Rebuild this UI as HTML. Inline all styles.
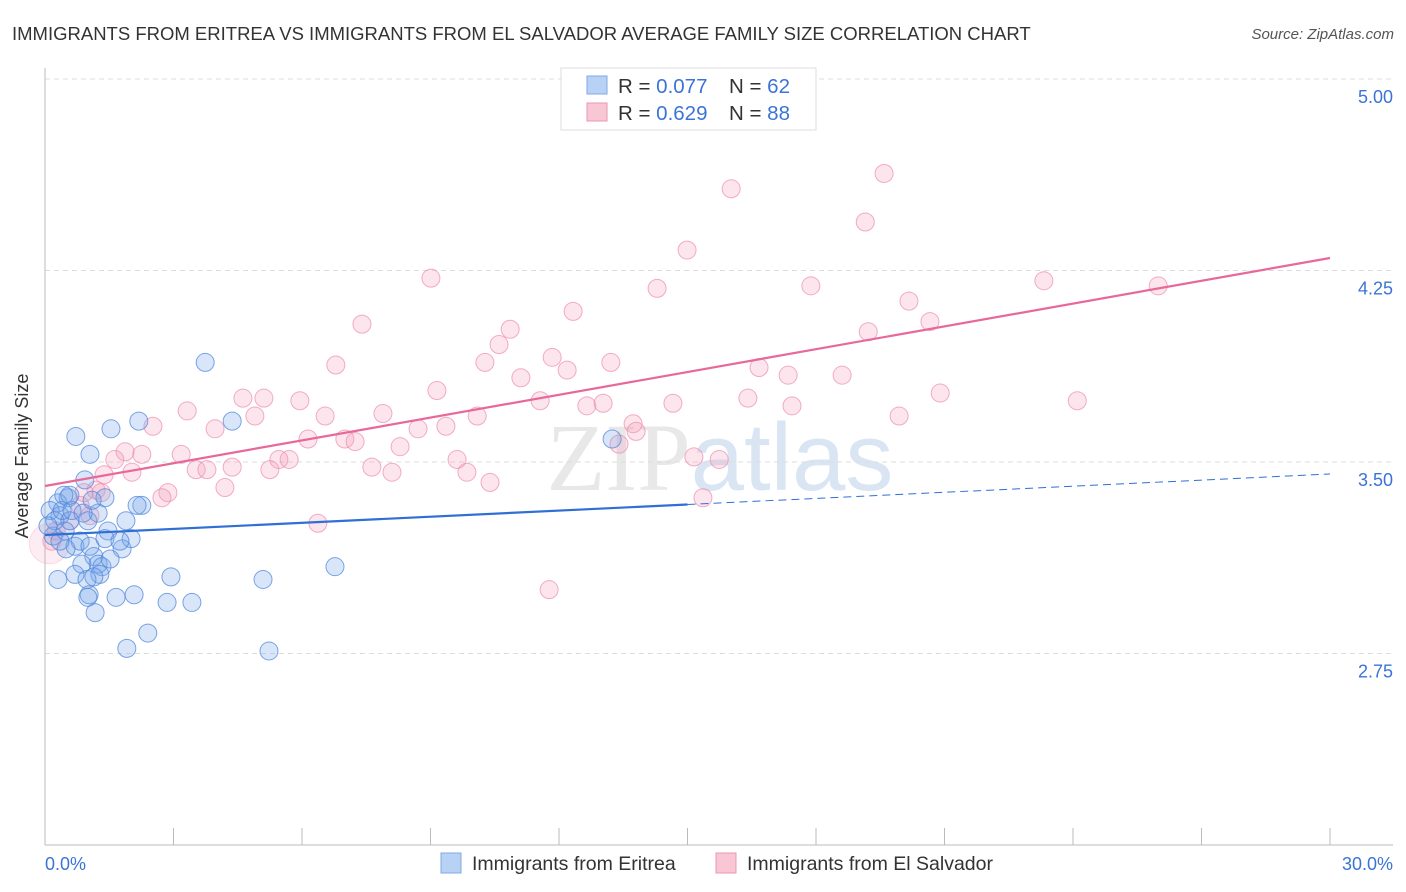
<!DOCTYPE html>
<html><head><meta charset="utf-8"><style>
body{margin:0;background:#fff;font-family:"Liberation Sans",sans-serif}
svg{display:block}
</style></head><body>
<svg width="1406" height="892" xmlns="http://www.w3.org/2000/svg">
<text x="12" y="40" font-size="18.5" fill="#333">IMMIGRANTS FROM ERITREA VS IMMIGRANTS FROM EL SALVADOR AVERAGE FAMILY SIZE CORRELATION CHART</text>
<text x="1394" y="39" font-size="15" fill="#555" font-style="italic" text-anchor="end">Source: ZipAtlas.com</text>
<text x="720" y="490" font-size="96" fill="#e8e8e8" text-anchor="middle" font-family="Liberation Serif">ZIP<tspan fill="#dae5f4" font-family="Liberation Sans">atlas</tspan></text>
<g id="grid"></g>
<g id="axes"></g>
<g id="pts"></g>
<g id="lines"></g>
<text x="28" y="456" font-size="18" fill="#333" text-anchor="middle" transform="rotate(-90 28 456)">Average Family Size</text>
<text x="45" y="870" font-size="18" fill="#3b74d6">0.0%</text>
<text x="1393" y="870" font-size="18" fill="#3b74d6" text-anchor="end">30.0%</text>
<g>
<rect x="561" y="68" width="255" height="62" fill="#fff" stroke="#ddd"/>
<rect x="587" y="76" width="20" height="18" fill="#b8d2f5" stroke="#7fa8e6"/>
<text x="618" y="93" font-size="20.5" fill="#333">R = <tspan fill="#3b74d6">0.077</tspan><tspan x="729">N = </tspan><tspan fill="#3b74d6">62</tspan></text>
<rect x="587" y="103" width="20" height="18" fill="#f9c6d5" stroke="#eb97b2"/>
<text x="618" y="120" font-size="20.5" fill="#333">R = <tspan fill="#3b74d6">0.629</tspan><tspan x="729">N = </tspan><tspan fill="#3b74d6">88</tspan></text>
</g>
<g>
<rect x="441" y="853" width="20" height="20" fill="#b8d2f5" stroke="#7fa8e6"/>
<text x="472" y="870" font-size="19.5" fill="#333">Immigrants from Eritrea</text>
<rect x="716" y="853" width="20" height="20" fill="#f9c6d5" stroke="#eb97b2"/>
<text x="747" y="870" font-size="19.5" fill="#333">Immigrants from El Salvador</text>
</g>
</svg>
<script>
const yTicks=[5.00,4.25,3.50,2.75];
const blueX=[3.74,2.19,4.37,0.72,1.54,1.05,0.93,0.54,1.40,2.26,2.15,1.89,0.30,0.12,0.35,0.58,1.00,1.24,0.47,0.19,1.47,0.70,0.82,0.49,1.14,1.80,2.01,1.40,1.75,1.24,1.33,0.86,1.28,1.14,0.70,0.30,0.98,2.94,5.09,6.77,1.03,1.00,1.66,2.08,2.85,3.43,1.17,2.40,1.91,5.23,13.24,0.23,0.07,0.40,0.63,0.89,1.10,0.35,1.52,1.05,0.58,0.44];
const blueY=[3.89,3.66,3.66,3.60,3.63,3.53,3.43,3.36,3.36,3.33,3.33,3.27,3.34,3.31,3.29,3.27,3.27,3.30,3.23,3.21,3.23,3.17,3.19,3.16,3.13,3.16,3.20,3.20,3.19,3.10,3.09,3.10,3.06,3.05,3.06,3.04,3.04,3.05,3.04,3.09,2.98,2.97,2.97,2.98,2.95,2.95,2.91,2.83,2.77,2.76,3.59,3.27,3.25,3.31,3.31,3.30,3.35,3.19,3.12,3.17,3.37,3.37];
const pinkX=[19.59,16.02,19.15,14.99,9.01,23.32,25.99,14.29,17.88,20.17,12.33,7.40,10.86,20.66,19.22,10.60,11.84,10.27,13.21,6.79,12.19,16.67,11.11,17.35,18.61,9.15,20.90,4.62,5.11,5.95,24.10,16.41,3.32,11.56,12.65,13.03,14.66,17.44,4.90,6.54,7.89,10.09,19.94,2.52,3.97,13.73,13.80,9.36,8.71,7.00,7.24,6.14,8.29,13.40,1.87,2.26,1.63,3.18,5.70,5.46,9.62,4.37,3.53,3.78,5.25,7.63,8.10,15.15,15.74,9.85,2.03,1.38,10.39,4.20,2.87,2.73,1.19,0.91,1.31,15.36,6.37,11.77,0.16,0.26,0.58,0.82,1.05,0.10];
const pinkY=[4.63,4.57,4.44,4.33,4.22,4.21,4.19,4.18,4.19,4.13,4.09,4.04,4.02,4.05,4.01,3.96,3.91,3.89,3.89,3.88,3.86,3.87,3.83,3.84,3.84,3.78,3.77,3.75,3.75,3.74,3.74,3.75,3.70,3.74,3.72,3.73,3.73,3.72,3.68,3.68,3.69,3.68,3.68,3.64,3.63,3.65,3.62,3.64,3.63,3.59,3.58,3.59,3.56,3.57,3.54,3.53,3.51,3.53,3.51,3.51,3.51,3.48,3.47,3.47,3.47,3.48,3.46,3.52,3.51,3.46,3.46,3.45,3.42,3.40,3.38,3.36,3.39,3.38,3.38,3.36,3.26,3.00,3.19,3.23,3.27,3.33,3.29,3.18];
const blueTrend=[3.214,3.453];
const pinkTrend=[3.406,4.299];
const NS='http://www.w3.org/2000/svg';
const X0=45,X1=1330,Y5=79,Y2=845;
const sx=v=>X0+(v/30)*(X1-X0);
const sy=v=>Y5+(5-v)/3*(Y2-Y5);
function mk(t,a,p){const e=document.createElementNS(NS,t);for(const k in a)e.setAttribute(k,a[k]);p.appendChild(e);return e;}
const grid=document.getElementById('grid'),axes=document.getElementById('axes');
yTicks.forEach(t=>{
 const l=mk('line',{x1:X0,x2:1393,y1:sy(t),y2:sy(t),stroke:'#ddd','stroke-dasharray':'5,4'},grid);
 
 
 const tx=mk('text',{x:1393,y:sy(t)+24,'font-size':18,fill:'#3b74d6','text-anchor':'end'},grid);
 tx.textContent=t.toFixed(2);
 
 
});
const ya=mk('line',{x1:X0,x2:X0,y1:68,y2:Y2,stroke:'#bbb'},axes);


const xa=mk('line',{x1:X0,x2:1393,y1:Y2,y2:Y2,stroke:'#bbb'},axes);


for(let i=1;i<=10;i++){const tk=mk('line',{x1:sx(i*3),x2:sx(i*3),y1:Y2-17,y2:Y2,stroke:'#bbb'},axes);
 
 }
const pts=document.getElementById('pts');
pinkX.forEach((x,i)=>{const big=i===pinkX.length-1;const c=mk('circle',{cx:sx(x),cy:sy(pinkY[i]),r:big?20:9,fill:big?'rgba(244,160,188,0.2)':'rgba(244,160,188,0.28)',stroke:big?'rgba(236,154,180,0.3)':'rgba(236,140,172,0.7)','stroke-width':1},pts);
 
 });
blueX.forEach((x,i)=>{const c=mk('circle',{cx:sx(x),cy:sy(blueY[i]),r:9,fill:'rgba(120,165,235,0.28)',stroke:'rgba(80,135,220,0.75)','stroke-width':1},pts);
 
 });
const ln=document.getElementById('lines');
const bAt=v=>blueTrend[0]+(blueTrend[1]-blueTrend[0])*v/30;
const pl=mk('line',{x1:sx(0),y1:sy(pinkTrend[0]),x2:sx(30),y2:sy(pinkTrend[1]),stroke:'#e8689a','stroke-width':2.2},ln);


const bl=mk('line',{x1:sx(0),y1:sy(bAt(0)),x2:sx(15),y2:sy(bAt(15)),stroke:'#2f6fd6','stroke-width':2.2},ln);


const bd=mk('line',{x1:sx(15),y1:sy(bAt(15)),x2:sx(30),y2:sy(bAt(30)),stroke:'#2f6fd6','stroke-width':1,'stroke-dasharray':'8,5'},ln);


</script>
</body></html>
